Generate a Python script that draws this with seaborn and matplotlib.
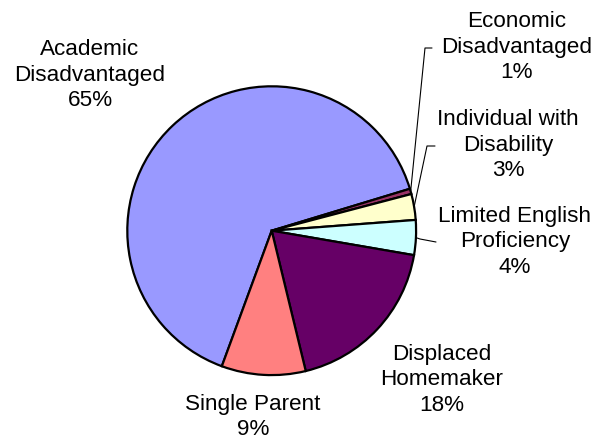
import matplotlib
matplotlib.use("Agg")
import matplotlib.pyplot as plt
import numpy as np
import seaborn as sns

# Datos (porcentajes), en orden horario desde el borde inferior izquierdo
categories = [
    "Academic\nDisadvantaged",
    "Economic\nDisadvantaged",
    "Individual with\nDisability",
    "Limited English\nProficiency",
    "Displaced\nHomemaker",
    "Single Parent",
]
values = [64.7, 0.6, 2.9, 3.9, 18.5, 9.4]
colors = ["#9999FF", "#993366", "#FFFFCC", "#CCFFFF", "#660066", "#FF8080"]

# Posición de cada etiqueta (px, origen arriba a la izquierda)
label_pos = [(90, 75), (517, 47), (508, 145), (515, 242), (442, 380), (253, 417)]
# Línea guía: (codo, extremo junto al texto) en px, o None
leader = [None, ((425, 49), (432, 49)), ((427, 147), (435, 147)),
          ((420, 240), (436, 243)), None, None]

W, H = 598, 439
CX, CY, R = 271.7, 231.7, 144.4

sns.set_style("white")
plt.rcParams["font.family"] = ["Liberation Sans", "DejaVu Sans"]

fig = plt.figure(figsize=(W / 100, H / 100), dpi=100)
ax = fig.add_axes([0, 0, 1, 1])

wedges, _ = ax.pie(
    values,
    colors=colors,
    startangle=249.8,
    counterclock=False,
    center=(CX, H - CY),
    radius=R,
    wedgeprops=dict(edgecolor="black", linewidth=1.6),
    frame=True,
)
ax.set_xlim(0, W)
ax.set_ylim(0, H)
ax.set_aspect("equal")
ax.axis("off")

total = sum(values)
for wedge, name, val, (lx, ly), lead in zip(wedges, categories, values, label_pos, leader):
    ax.text(lx, H - ly, f"{name}\n{val / total * 100:.0f}%", ha="center", va="center",
            fontsize=16.2, linespacing=1.3, color="black")
    if lead is not None:
        mid = np.deg2rad((wedge.theta1 + wedge.theta2) / 2)
        ex, ey = CX + R * np.cos(mid), (H - CY) + R * np.sin(mid)
        (bx, by), (tx, ty) = lead
        ax.plot([ex, bx, tx], [ey, H - by, H - ty], color="black", linewidth=0.8)

fig.savefig("out.png", dpi=100)
